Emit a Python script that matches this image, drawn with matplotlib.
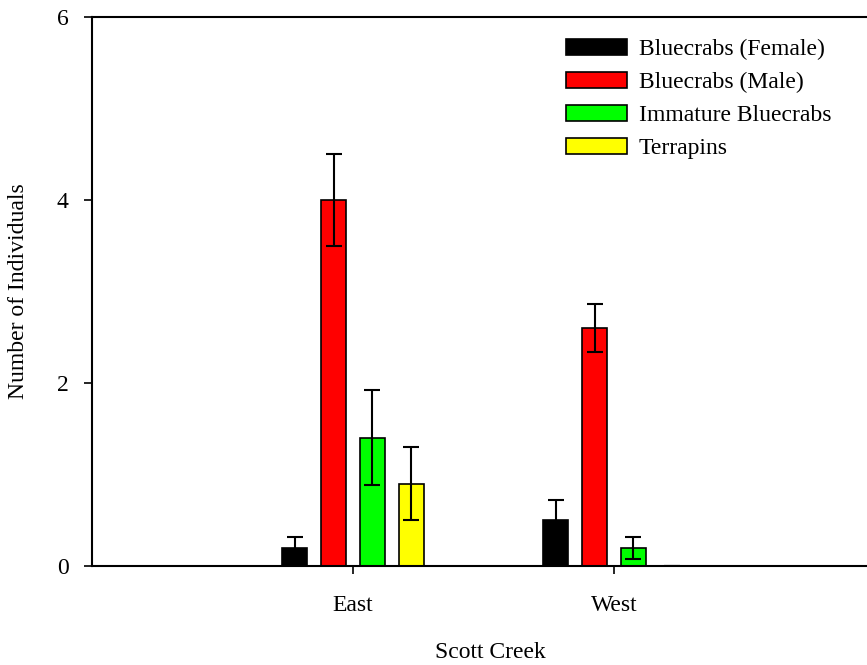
import numpy as np
import matplotlib.pyplot as plt

plt.rcParams['font.family'] = ['Liberation Serif', 'DejaVu Serif']

sites = ["East", "West"]
groups = ["Bluecrabs (Female)", "Bluecrabs (Male)", "Immature Bluecrabs", "Terrapins"]
means = {
    "Bluecrabs (Female)": [0.2, 0.5],
    "Bluecrabs (Male)": [4.0, 2.6],
    "Immature Bluecrabs": [1.4, 0.2],
    "Terrapins": [0.9, 0.0],
}
errors = {
    "Bluecrabs (Female)": [0.12, 0.22],
    "Bluecrabs (Male)": [0.5, 0.26],
    "Immature Bluecrabs": [0.52, 0.12],
    "Terrapins": [0.4, 0.0],
}
colors = ["#000000", "#ff0000", "#00ff00", "#ffff00"]

fig = plt.figure(figsize=(8.67, 6.65), dpi=100)
# axes run a little past the right edge, so no right frame shows
ax = fig.add_axes([92/867, 1 - 566/665, 796/867, 549/665])

x = np.arange(1, len(sites) + 1)
step = 0.149
width = 0.096
for i, g in enumerate(groups):
    pos = x + (i - 1.5) * step
    ax.bar(pos, means[g], width, yerr=errors[g], color=colors[i],
           edgecolor="black", linewidth=1.2, label=g,
           error_kw=dict(ecolor="black", elinewidth=1.5, capsize=6, capthick=1.5))

ax.set_xlim(0, 796/261)
ax.set_ylim(0, 6)
ax.set_yticks([0, 2, 4, 6])
ax.set_xticks(x)
ax.set_xticklabels(sites)

ax.spines['right'].set_visible(False)
for s in ['left', 'bottom', 'top']:
    ax.spines[s].set_linewidth(1.5)
ax.tick_params(axis='y', direction='out', length=6, width=1.2, pad=11, labelsize=17)
ax.tick_params(axis='x', direction='out', length=6, width=1.2, pad=15, labelsize=17)

ax.set_xlabel("Scott Creek", fontsize=17)
ax.set_ylabel("Number of Individuals", fontsize=17)
ax.xaxis.set_label_coords(0.501, -0.138)
ax.yaxis.set_label_coords(-0.079, 0.5)

ax.legend(loc="upper left", bbox_to_anchor=(566/867, 1 - 39/665),
          bbox_transform=fig.transFigure, frameon=False, fontsize=17,
          handlelength=2.58, handleheight=0.68, handletextpad=0.5,
          labelspacing=0.49, borderpad=0, borderaxespad=0)

plt.savefig("out.png", dpi=100)
